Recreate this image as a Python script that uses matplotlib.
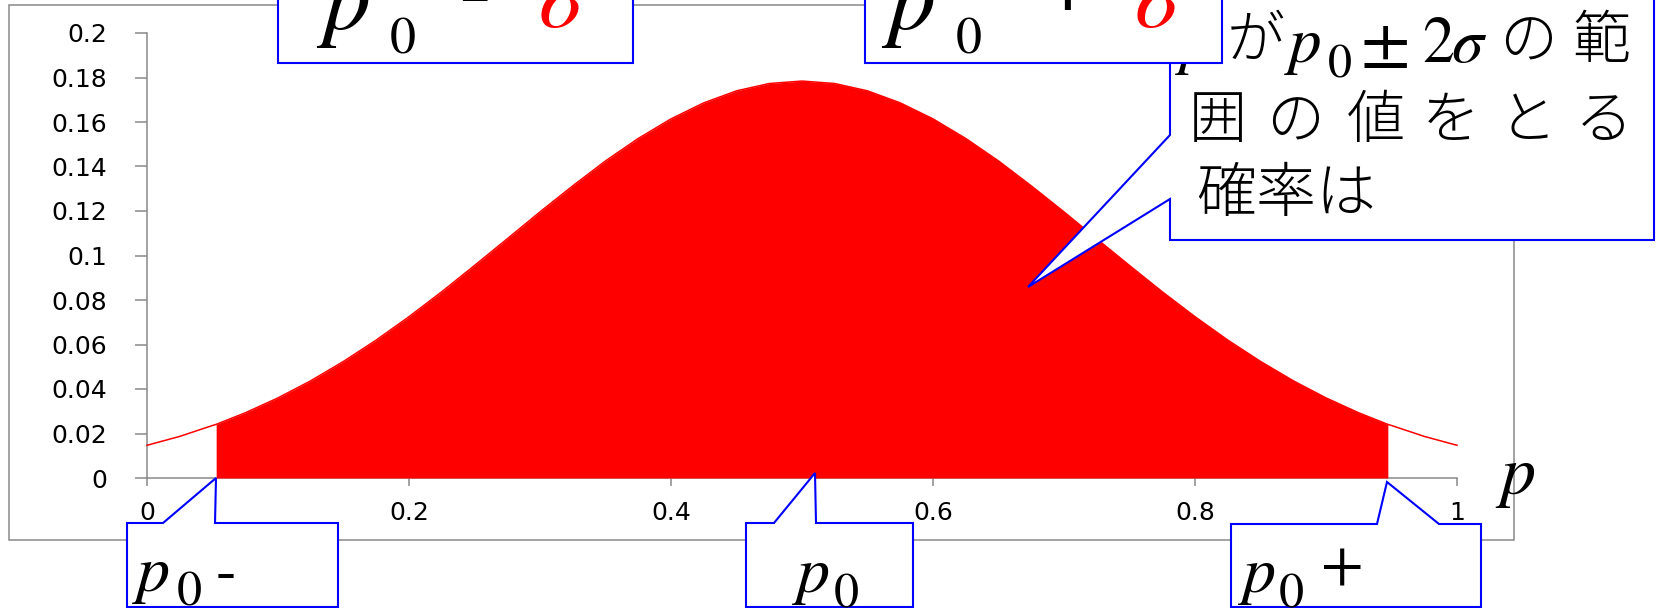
import matplotlib
matplotlib.use('Agg')
import matplotlib.pyplot as plt
from matplotlib.patches import Polygon, Rectangle

W, H, DPI = 1662, 608, 100

# ---- data ----
p_grid = [0.000, 0.025, 0.050, 0.0528, 0.075, 0.100, 0.125, 0.150, 0.175, 0.200,
          0.225, 0.250, 0.275, 0.300, 0.325, 0.350, 0.375, 0.400, 0.425, 0.450,
          0.475, 0.500, 0.525, 0.550, 0.575, 0.600, 0.625, 0.650, 0.675, 0.700,
          0.725, 0.750, 0.775, 0.800, 0.825, 0.850, 0.875, 0.900, 0.925, 0.9472,
          0.950, 0.975, 1.000]
density = [0.0147, 0.0187, 0.0236, 0.0241, 0.0293, 0.0360, 0.0437, 0.0524, 0.0620, 0.0725,
           0.0837, 0.0955, 0.1075, 0.1196, 0.1313, 0.1425, 0.1526, 0.1614, 0.1686, 0.1740,
           0.1773, 0.1784, 0.1773, 0.1740, 0.1686, 0.1614, 0.1526, 0.1425, 0.1313, 0.1196,
           0.1075, 0.0955, 0.0837, 0.0725, 0.0620, 0.0524, 0.0437, 0.0360, 0.0293, 0.0241,
           0.0236, 0.0187, 0.0147]
band_lo, band_hi = 0.0528, 0.9472
y_ticks = [0, 0.02, 0.04, 0.06, 0.08, 0.1, 0.12, 0.14, 0.16, 0.18, 0.2]
y_tick_labels = ['0', '0.02', '0.04', '0.06', '0.08', '0.1', '0.12', '0.14', '0.16', '0.18', '0.2']
x_ticks = [0, 0.2, 0.4, 0.6, 0.8, 1]
x_tick_labels = ['0', '0.2', '0.4', '0.6', '0.8', '1']

GRAY = '#898989'
RED = '#FF0000'
BLUE = '#0000FF'
SERIF = 'STIXGeneral'
CJK = ['Noto Sans CJK JP', 'DejaVu Sans']

fig = plt.figure(figsize=(W / DPI, H / DPI), dpi=DPI, facecolor='white')

# main chart axes (pixel box: x 147..1457, y 33..478)
ax = fig.add_axes([147 / W, (H - 478) / H, (1457 - 147) / W, (478 - 33) / H])
ax.set_xlim(0, 1)
ax.set_ylim(0, 0.2)
ax.plot(p_grid, density, color=RED, lw=1.1, zorder=4, clip_on=False)
mask = [band_lo <= p <= band_hi for p in p_grid]
ax.fill_between(p_grid, 0, density, where=mask, color=RED, lw=0, zorder=3)
for s in ['top', 'right']:
    ax.spines[s].set_visible(False)
for s in ['left', 'bottom']:
    ax.spines[s].set_color(GRAY)
    ax.spines[s].set_linewidth(1.1)
ax.set_yticks(y_ticks)
ax.set_yticklabels(y_tick_labels, fontsize=18, family='DejaVu Sans')
ax.set_xticks(x_ticks)
ax.set_xticklabels(x_tick_labels, fontsize=18, family='DejaVu Sans')
ax.tick_params(axis='y', direction='out', length=8.6, width=1.1, color=GRAY, pad=20)
ax.tick_params(axis='x', direction='out', length=5.8, width=1.1, color=GRAY, pad=11)
ax.patch.set_alpha(0)

# overlay in pixel coordinates
ov = fig.add_axes([0, 0, 1, 1], zorder=10)
ov.set_xlim(0, W)
ov.set_ylim(H, 0)
ov.axis('off')
ov.patch.set_alpha(0)

ov.add_patch(Rectangle((9, 5), 1505, 535, fill=False, ec=GRAY, lw=1.1, zorder=1))


def callout(pts, z):
    ov.add_patch(Polygon(pts, closed=True, fc='white', ec=BLUE, lw=1.5, zorder=z,
                         joinstyle='miter'))


def put(x, y, s, px, z=5, **kw):
    kw.setdefault('ha', 'left')
    kw.setdefault('va', 'baseline')
    ov.text(x, y, s, fontsize=px * 0.72, zorder=z, **kw)


def serif(x, y, s, px, z=5, italic=False, **kw):
    put(x, y, s, px, z=z, family=SERIF, style='italic' if italic else 'normal', **kw)


def cjk(x, y, s, px, z=2.2):
    put(x, y, s, px, z=z, family=CJK, weight='light', ha='center', va='center')


# big callout (under the top-right box)
callout([(1170, -10), (1654, -10), (1654, 240), (1170, 240), (1170, 199),
         (1028, 287), (1170, 135)], 2)
# top boxes
callout([(278, -10), (633, -10), (633, 63), (278, 63)], 3)
callout([(865, -10), (1222, -10), (1222, 63), (865, 63)], 3)
# bottom callouts
callout([(127, 523), (163, 523), (216, 478), (215, 523), (338, 523), (338, 607), (127, 607)], 3)
callout([(746, 523), (774, 523), (815, 473), (816, 523), (913, 523), (913, 607), (746, 607)], 3)
callout([(1231, 524), (1377, 524), (1387, 482), (1439, 524), (1481, 524), (1481, 607), (1231, 607)], 3)

# big callout text
serif(1180, 62, 'p', 65, z=2.2, italic=True)
cjk(1256, 42, 'が', 58)
serif(1289, 62, 'p', 65, z=2.2, italic=True)
serif(1328, 77, '0', 48, z=2.2)
serif(1360, 62, '±', 72, z=2.2)
serif(1422, 62, '2', 64, z=2.2)
serif(1451, 62, 'σ', 64, z=2.2, italic=True)
cjk(1528, 42, 'の', 58)
cjk(1601, 42, '範', 58)
for cx, ch in zip([1218, 1295, 1376, 1451, 1528, 1604], '囲の値をとる'):
    cjk(cx, 122, ch, 58)
cjk(1286, 195, '確率は', 60)

# top-left box: p0 - σ
serif(323, 28, 'p', 94, italic=True)
serif(390, 53, '0', 52)
serif(458, 20, '-', 100)
serif(539, 27, 'σ', 90, italic=True, color=RED)
# top-right box: p0 + σ
serif(888, 28, 'p', 94, italic=True)
serif(956, 53, '0', 52)
serif(1067, 6, '+', 90, ha='center')
serif(1135, 27, 'σ', 90, italic=True, color=RED)

# bottom callout texts
serif(137, 591, 'p', 66, italic=True)
serif(177, 606, '0', 50)
serif(216, 590, '-', 62)
serif(797, 592, 'p', 66, italic=True)
serif(834, 607, '0', 50)
serif(1243, 592, 'p', 66, italic=True)
serif(1279, 607, '0', 50)
serif(1342, 584, '+', 62, ha='center')

# axis label p
serif(1500, 494, 'p', 70, italic=True)

fig.savefig('out.png', dpi=DPI, facecolor='white')
